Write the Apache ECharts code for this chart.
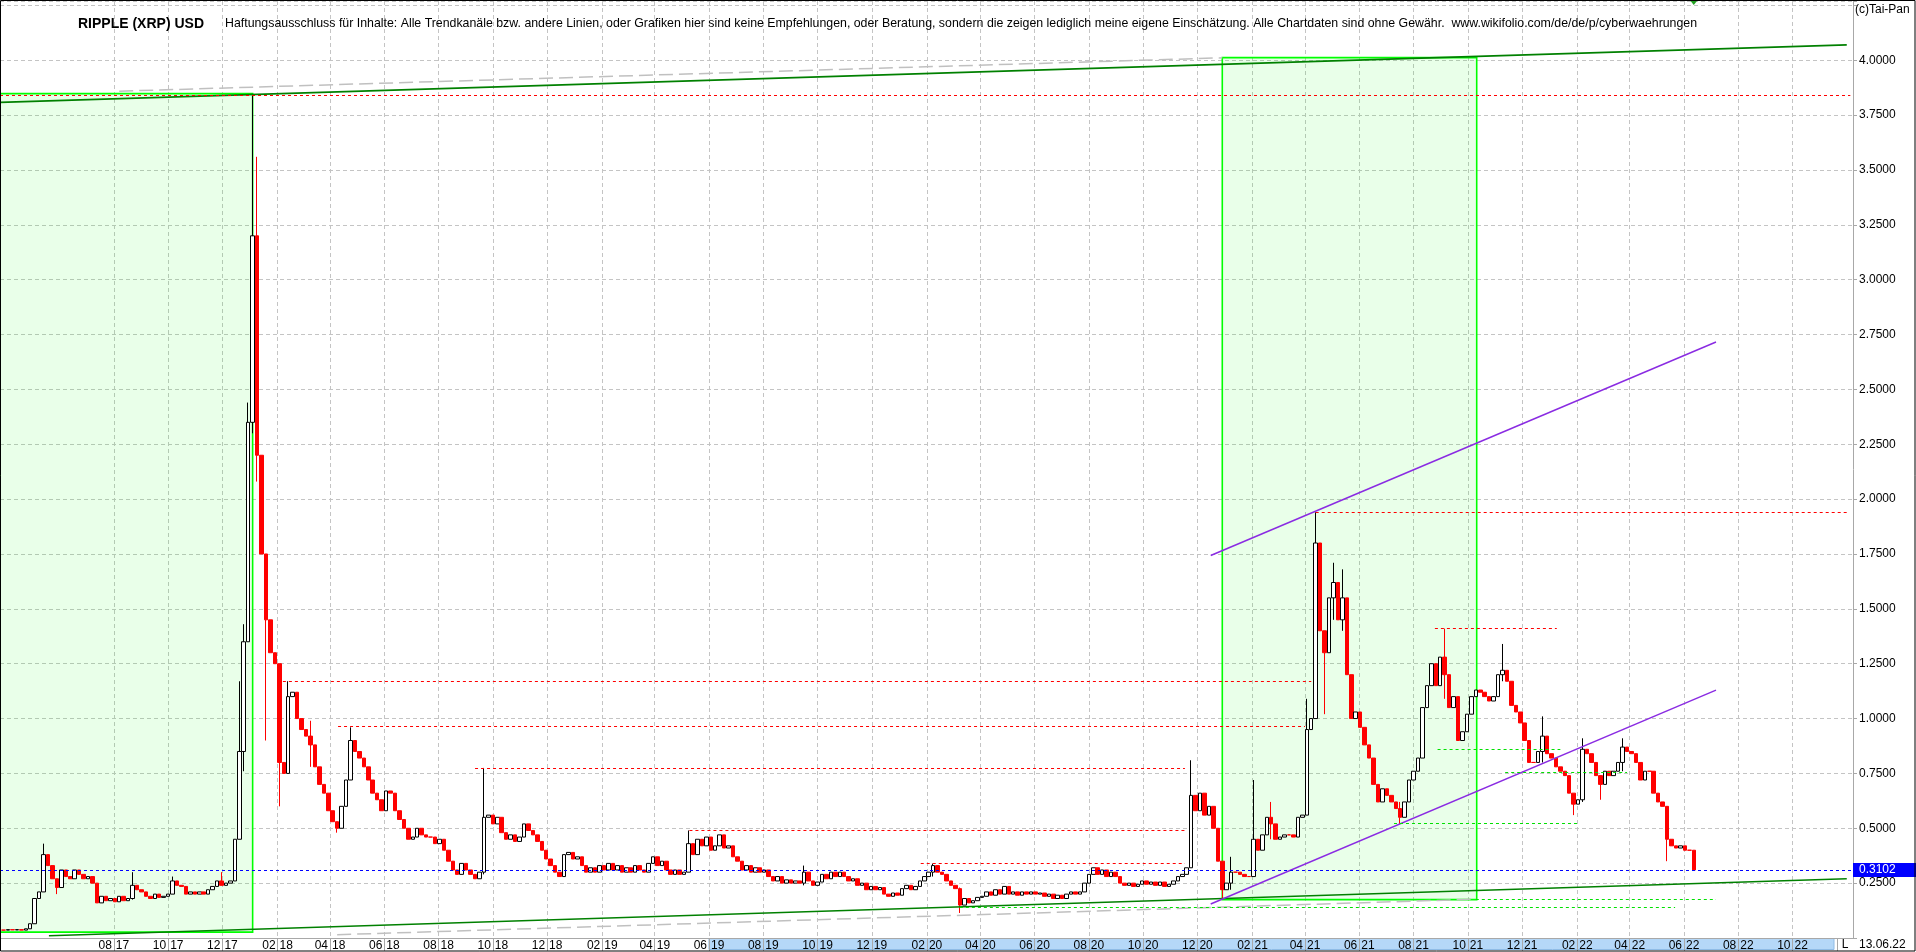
<!DOCTYPE html>
<html><head><meta charset="utf-8">
<script src="https://cdn.jsdelivr.net/npm/echarts@6/dist/echarts.min.js"></script>
<style>html,body{margin:0;padding:0;background:#fff;overflow:hidden}#c{width:1916px;height:952px}</style>
</head><body><div id="c"></div>
<script>
// ---------- data ----------
const AXIS_START = '2017-03-26';
const AXIS_END = '2022-12-08';
const FIRST_LABEL = '2017-07-01', LAST_LABEL = '2022-11-01';
const STEP_DAYS = 5;                       // one candle every 5 days
const segmentStarts = ['2017-03-30','2018-01-04','2019-01-04','2020-01-04','2021-01-03','2022-01-03'];
const close2017 = [0.036,0.038,0.037,0.038,0.036,0.042,0.065,0.18,0.21,0.38,
 0.33,0.27,0.23,0.31,0.28,0.27,0.31,0.29,0.27,0.28,
 0.25,0.16,0.19,0.17,0.18,0.165,0.19,0.17,0.18,0.24,
 0.22,0.21,0.19,0.18,0.20,0.185,0.19,0.20,0.26,0.24,
 0.235,0.20,0.21,0.20,0.21,0.20,0.22,0.235,0.26,0.24,
 0.25,0.26,0.45,0.85,1.35,2.35];
const close2018 = [3.20,2.20,1.75,1.45,1.30,1.25,0.80,0.75,1.10,1.12,
 1.00,0.95,0.92,0.88,0.78,0.70,0.66,0.58,0.53,0.50,
 0.60,0.72,0.90,0.85,0.82,0.78,0.72,0.66,0.63,0.58,
 0.67,0.66,0.58,0.54,0.50,0.45,0.46,0.50,0.47,0.46,
 0.46,0.43,0.45,0.40,0.35,0.31,0.29,0.34,0.31,0.29,
 0.27,0.30,0.55,0.56,0.52,0.55,0.48,0.45,0.47,0.44,
 0.46,0.52,0.49,0.47,0.44,0.40,0.36,0.33,0.30,0.28,
 0.38,0.39,0.36];
const close2019 = [0.37,0.33,0.30,0.32,0.30,0.33,0.31,0.34,0.31,0.33,
 0.30,0.32,0.30,0.33,0.31,0.30,0.34,0.37,0.33,0.35,
 0.31,0.29,0.31,0.29,0.30,0.43,0.38,0.45,0.42,0.46,
 0.40,0.42,0.47,0.41,0.42,0.37,0.35,0.31,0.33,0.30,
 0.32,0.30,0.31,0.28,0.26,0.28,0.25,0.265,0.25,0.26,
 0.25,0.30,0.26,0.24,0.255,0.29,0.27,0.30,0.28,0.30,
 0.28,0.26,0.27,0.24,0.25,0.22,0.235,0.22,0.23,0.20,
 0.19,0.205,0.195];
const close2020 = [0.225,0.24,0.22,0.235,0.26,0.28,0.30,0.33,0.30,0.29,
 0.26,0.24,0.225,0.15,0.18,0.16,0.17,0.185,0.19,0.21,
 0.195,0.22,0.20,0.235,0.20,0.21,0.195,0.21,0.20,0.21,
 0.20,0.205,0.19,0.20,0.18,0.195,0.18,0.20,0.21,0.20,
 0.21,0.25,0.29,0.32,0.29,0.31,0.28,0.30,0.28,0.25,
 0.24,0.25,0.235,0.245,0.26,0.245,0.255,0.24,0.255,0.235,
 0.245,0.26,0.28,0.29,0.32,0.65,0.58,0.66,0.56,0.60,
 0.50,0.35,0.22];
const close2021 = [0.25,0.30,0.30,0.29,0.28,0.28,0.45,0.40,0.47,0.55,
 0.52,0.45,0.46,0.47,0.47,0.46,0.55,0.56,0.95,1.00,
 1.80,1.40,1.30,1.55,1.62,1.45,1.55,1.20,1.00,1.03,
 0.96,0.88,0.82,0.70,0.62,0.68,0.65,0.62,0.59,0.55,
 0.62,0.72,0.76,0.82,1.05,1.15,1.25,1.15,1.28,1.20,
 1.05,1.10,0.90,0.94,1.02,1.10,1.13,1.12,1.10,1.08,
 1.10,1.20,1.22,1.17,1.06,1.03,0.98,0.90,0.80,0.80,
 0.85,0.92,0.84];
const close2022 = [0.82,0.78,0.76,0.74,0.66,0.61,0.63,0.86,0.84,0.80,
 0.74,0.70,0.76,0.74,0.76,0.80,0.87,0.85,0.84,0.80,
 0.72,0.76,0.76,0.66,0.62,0.60,0.45,0.42,0.41,0.42,
 0.40,0.40,0.3102];
// visible wicks: date, low, high
const wickDates = ['2017-05-14','2017-05-29','2017-08-22','2017-10-06','2017-11-30','2017-12-20','2017-12-25','2017-12-30',
 '2018-01-04','2018-01-09','2018-01-19','2018-02-03','2018-02-13','2018-03-10','2018-04-09','2018-04-24','2018-09-21',
 '2019-05-09','2019-09-16','2020-02-08','2020-03-09','2020-11-24','2020-12-29','2021-01-08','2021-02-02','2021-02-22',
 '2021-04-03','2021-04-13','2021-04-23','2021-05-03','2021-05-13','2021-07-17','2021-09-05','2021-11-09','2021-12-24',
 '2022-01-28','2022-02-07','2022-02-27','2022-03-24','2022-05-13'];
const wickLows = [0.21,0.20,0.175,0.20,0.24,0.45,0.76,1.35,
 2.30,2.08,0.90,0.60,0.75,0.78,0.48,0.72,0.29,
 0.30,0.24,0.28,0.114,0.32,0.175,0.22,0.28,0.45,
 0.56,1.00,1.02,1.45,1.40,0.52,1.09,1.17,0.80,
 0.56,0.62,0.63,0.76,0.35];
const wickHighs = [0.43,0.27,0.30,0.28,0.30,1.17,1.43,2.44,
 3.84,3.56,1.75,1.25,1.17,0.99,0.53,0.96,0.775,
 0.49,0.33,0.339,0.23,0.81,0.35,0.37,0.72,0.62,
 1.09,1.94,1.40,1.71,1.68,0.62,1.41,1.34,1.01,
 0.66,0.91,0.74,0.91,0.60];
const lastPrice = 0.3102;
const lastDateText = '13.06.22';
// drawn trend lines [date, value] -> [date, value]
const greenTrend = [[['2017-03-26',3.808],['2022-12-01',4.070]], [['2017-05-20',0.010],['2022-12-01',0.270]]];
const grayTrend = [[['2017-08-07',3.859],['2020-12-29',4.011]], [['2018-04-09',0.015],['2021-10-11',0.177]]];
const purpleTrend = [[['2020-12-16',1.743],['2022-07-07',2.716]], [['2020-12-16',0.155],['2022-07-07',1.130]]];
// horizontal levels [value, from, to]
const redLevels = [[3.84,'2017-03-26','2022-12-05'],[1.172,'2018-02-07','2021-04-08'],[0.963,'2018-04-10','2021-04-01'],
 [0.775,'2018-09-11','2020-11-17'],[0.489,'2019-05-10','2020-11-19'],[0.339,'2020-01-25','2020-11-17'],
 [1.940,'2021-04-13','2022-12-02'],[1.412,'2021-08-25','2022-01-09']];
const greenLevels = [[0.861,'2021-08-28','2022-01-13'],[0.756,'2021-11-12','2022-03-29'],[0.524,'2021-07-10','2022-02-01'],
 [0.175,'2021-10-10','2022-07-07'],[0.139,'2020-03-09','2022-05-22']];
// shaded boxes [corner, corner]
const boxes = [[['2017-03-26',0.027],['2018-01-04',3.848]], [['2020-12-29',0.175],['2021-10-11',4.012]]];
const title = 'RIPPLE (XRP) USD';
const disclaimer = 'Haftungsausschluss für Inhalte: Alle Trendkanäle bzw. andere Linien, oder Grafiken hier sind keine Empfehlungen, oder Beratung, sondern die zeigen lediglich meine eigene Einschätzung. Alle Chartdaten sind ohne Gewähr.  www.wikifolio.com/de/de/p/cyberwaehrungen';

// ---------- build ----------
const DAY = 86400000;
const pd = s => { const [y,m,d] = s.split('-').map(Number); return Date.UTC(y, m-1, d); };
const fd = t => { const d = new Date(t); return d.getUTCFullYear() + '-' + String(d.getUTCMonth()+1).padStart(2,'0') + '-' + String(d.getUTCDate()).padStart(2,'0'); };
const cats = [];
for (let t = pd(AXIS_START); t <= pd(AXIS_END); t += DAY) cats.push(fd(t));
const catIndex = {}; cats.forEach((c,i) => catIndex[c] = i);
const ix = d => catIndex[d];

const segs = [close2017, close2018, close2019, close2020, close2021, close2022];
const cDates = [], cClose = [];
segmentStarts.forEach((s,k) => segs[k].forEach((v,j) => { cDates.push(fd(pd(s) + j*STEP_DAYS*DAY)); cClose.push(v); }));
const ohlc = cClose.map((c,i) => { const o = i === 0 ? c : cClose[i-1]; return [o, c, Math.min(o,c), Math.max(o,c)]; });
wickDates.forEach((wd,k) => {
  const t = pd(wd); let best = 0, bd = Infinity;
  cDates.forEach((d,i) => { const dd = Math.abs(pd(d) - t); if (dd < bd) { bd = dd; best = i; } });
  ohlc[best][2] = Math.min(ohlc[best][2], wickLows[k]);
  ohlc[best][3] = Math.max(ohlc[best][3], wickHighs[k]);
});
const byDate = {}; cDates.forEach((d,i) => byDate[d] = ohlc[i]);
const seriesData = cats.map(d => byDate[d] || '-');

const isTick = (i, v) => v >= FIRST_LABEL && v <= LAST_LABEL && v.slice(8) === '01' && (+v.slice(5,7)) % 2 === 0;
const FONT = '"Liberation Sans", Arial, sans-serif';

const mlData = [];
const addSeg = (a, b, style) => mlData.push([{coord:[ix(a[0]), a[1]], lineStyle: style}, {coord:[ix(b[0]), b[1]]}]);
greenTrend.forEach(l => addSeg(l[0], l[1], {color:'#008000', width:1.6, type:'solid'}));
grayTrend.forEach(l => addSeg(l[0], l[1], {color:'#c0c0c0', width:1.5, type:[14,6]}));
purpleTrend.forEach(l => addSeg(l[0], l[1], {color:'#8a2be2', width:1.4, type:'solid'}));
redLevels.forEach(([v,a,b]) => addSeg([a,v],[b,v], {color:'#ff0000', width:1, type:[3,3]}));
greenLevels.forEach(([v,a,b]) => addSeg([a,v],[b,v], {color:'#00e000', width:1, type:[3,3]}));
mlData.push({yAxis: lastPrice, lineStyle:{color:'#0000ff', width:1, type:[3,3]}});

const chart = echarts.init(document.getElementById('c'), null, {renderer:'canvas', width:1916, height:952});
const option = {
  backgroundColor:'#ffffff',
  animation:false,
  grid:{left:0, right:63, top:1, bottom:14, containLabel:false, outerBoundsMode:'none'},
  xAxis:{type:'category', data:cats, boundaryGap:false,
    axisLine:{show:true, lineStyle:{color:'#a8a8a8', width:1}},
    axisTick:{show:true, interval:isTick, length:13, lineStyle:{color:'#a8a8a8'}},
    axisLabel:{interval:isTick, margin:2, hideOverlap:false,
      formatter: v => '{a|' + v.slice(5,7) + '}{g| }{a|' + v.slice(2,4) + '}',
      rich:{a:{fontSize:12, color:'#000', fontFamily:FONT}, g:{width:4, fontSize:12}}},
    splitLine:{show:true, interval:isTick, lineStyle:{color:'#c4c4c4', type:[4,3], width:1}}},
  yAxis:{type:'value', position:'right', min:0, max:4.27, interval:0.25, scale:false,
    axisLine:{show:true, lineStyle:{color:'#a8a8a8'}},
    axisTick:{show:true, length:4, lineStyle:{color:'#a8a8a8'}},
    axisLabel:{formatter: v => (v < 0.01 || v > 4.1) ? '' : v.toFixed(4), color:'#000', fontSize:12, fontFamily:FONT, margin:6},
    splitLine:{show:true, lineStyle:{color:'#c4c4c4', type:[4,3], width:1}}},
  series:[{
    type:'candlestick', data:seriesData, barWidth:4, large:false, progressive:0, silent:true,
    itemStyle:{color:'#ffffff', color0:'#ff0000', borderColor:'#000000', borderColor0:'#ff0000', borderColorDoji:'#ff0000', borderWidth:1},
    markArea:{silent:true, itemStyle:{color:'rgba(0,255,0,0.085)', borderColor:'#00ff00', borderWidth:1.6},
      data: boxes.map(b => [{coord:[ix(b[0][0]), b[0][1]]}, {coord:[ix(b[1][0]), b[1][1]]}])},
    markLine:{silent:true, symbol:['none','none'], label:{show:false}, emphasis:{disabled:true}, animation:false, data:mlData}
  }]
};
chart.setOption(option);

const xPx = d => chart.convertToPixel({xAxisIndex:0}, ix(d));
const yPx = v => chart.convertToPixel({yAxisIndex:0}, v);
const bandX = xPx('2019-06-01');
const lastX = xPx(cDates[cDates.length-1]);
const priceY = yPx(lastPrice);
chart.setOption({graphic:[
  {type:'rect', z:-10, silent:true, shape:{x:bandX, y:938.5, width:1834-bandX, height:11}, style:{fill:'#b5d8f8', stroke:'#8fbce6', lineWidth:1}},
  {type:'line', silent:true, shape:{x1:1837.5, y1:938, x2:1837.5, y2:951}, style:{stroke:'#a8a8a8', lineWidth:1}},
  {type:'text', silent:true, x:1845, y:944.5, style:{text:'L', font:'12px ' + FONT, fill:'#000', align:'center', verticalAlign:'middle'}},
  {type:'text', silent:true, x:1859, y:944.5, style:{text:lastDateText, font:'12px ' + FONT, fill:'#000', verticalAlign:'middle'}},
  {type:'rect', silent:true, z:10, shape:{x:1853, y:priceY-7, width:63, height:14}, style:{fill:'#0000ff'}},
  {type:'text', silent:true, z:11, x:1859, y:priceY, style:{text:lastPrice.toFixed(4), font:'12px ' + FONT, fill:'#ffffff', verticalAlign:'middle'}},
  {type:'polygon', silent:true, z:10, shape:{points:[[lastX-4,0],[lastX+4,0],[lastX,5]]}, style:{fill:'#22a022'}},
  {type:'text', silent:true, z:10, x:78, y:24, style:{text:title, font:'bold 14px ' + FONT, fill:'#000', verticalAlign:'middle'}},
  {type:'text', silent:true, z:10, x:225, y:24, style:{text:disclaimer, font:'12.35px ' + FONT, fill:'#000', verticalAlign:'middle'}},
  {type:'text', silent:true, z:10, x:1855, y:10, style:{text:'(c)Tai-Pan', font:'12px ' + FONT, fill:'#000', verticalAlign:'middle'}},
  {type:'rect', silent:true, z:20, shape:{x:0.5, y:0.5, width:1914.5, height:950.5}, style:{fill:'none', stroke:'#000', lineWidth:1}}
]});
</script>
</body></html>
